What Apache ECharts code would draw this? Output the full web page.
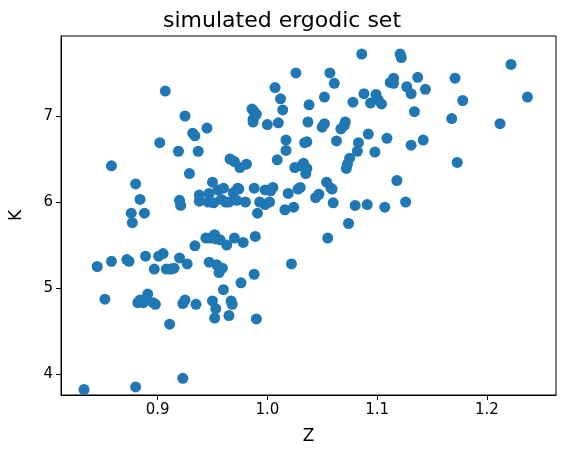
<!DOCTYPE html>
<html><head><meta charset="utf-8">
<script src="https://cdn.jsdelivr.net/npm/echarts@6/dist/echarts.min.js"></script>
<style>html,body{margin:0;padding:0;background:#fff}#c{width:564px;height:472px}</style>
</head><body><div id="c"></div>
<script>
const zValues=[0.833,0.88,0.923,0.845,0.852,0.858,0.858,0.872,0.874,0.876,0.877,0.88,0.884,0.888,0.889,0.882,0.884,0.887,0.89,0.891,0.896,0.898,0.897,0.901,0.902,0.905,0.907,0.908,0.911,0.912,0.915,0.919,0.92,0.921,0.92,0.923,0.925,0.925,0.927,0.929,0.932,0.934,0.934,0.935,0.937,0.938,0.938,0.944,0.945,0.946,0.947,0.947,0.948,0.95,0.95,0.951,0.952,0.952,0.953,0.953,0.954,0.955,0.956,0.957,0.958,0.959,0.96,0.96,0.962,0.963,0.965,0.965,0.966,0.967,0.968,0.969,0.97,0.97,0.972,0.973,0.974,0.975,0.976,0.978,0.98,0.981,0.986,0.987,0.987,0.988,0.988,0.988,0.989,0.99,0.99,0.991,0.993,0.998,0.998,1.0,1.002,1.003,1.005,1.007,1.009,1.01,1.012,1.014,1.016,1.017,1.017,1.019,1.022,1.024,1.025,1.026,1.028,1.03,1.031,1.033,1.034,1.035,1.036,1.036,1.037,1.038,1.044,1.047,1.05,1.052,1.052,1.054,1.055,1.057,1.058,1.059,1.06,1.061,1.063,1.067,1.07,1.071,1.072,1.073,1.074,1.075,1.078,1.08,1.082,1.083,1.086,1.088,1.091,1.092,1.094,1.098,1.099,1.101,1.104,1.107,1.109,1.112,1.115,1.115,1.118,1.121,1.122,1.126,1.127,1.131,1.131,1.134,1.137,1.142,1.144,1.168,1.171,1.173,1.178,1.212,1.222,1.237];
const kValues=[3.82,3.85,3.95,5.25,4.87,5.31,6.42,5.33,5.31,5.87,5.76,6.21,6.03,5.87,5.37,4.83,4.86,4.83,4.88,4.93,4.83,4.81,5.22,5.37,6.69,5.4,7.29,5.22,4.58,5.22,5.23,6.59,6.02,5.96,5.35,4.82,4.86,7.0,5.28,6.33,6.8,6.77,5.49,4.81,6.59,6.08,6.01,5.58,6.86,6.0,5.3,6.1,5.58,6.23,4.85,5.99,5.62,4.65,4.76,5.57,5.27,6.14,5.18,5.56,6.03,5.23,4.98,6.16,6.0,5.5,6.0,4.68,6.5,4.85,4.81,6.11,6.47,5.58,6.02,6.16,6.15,6.4,5.06,5.53,6.0,6.44,7.08,6.96,6.93,7.05,6.16,5.16,5.6,4.64,7.02,5.87,6.0,6.14,5.97,6.9,6.0,6.13,6.17,7.33,6.49,6.92,7.2,7.07,5.91,6.72,6.6,6.1,5.28,5.94,6.4,7.5,6.15,6.17,6.42,6.45,6.69,6.33,6.39,6.7,6.93,7.13,6.05,6.09,6.87,6.91,7.22,6.23,5.58,7.5,6.16,6.15,5.99,7.38,6.71,6.85,6.89,6.93,6.39,6.44,5.75,6.51,7.16,5.96,6.59,6.69,7.72,7.26,5.97,6.79,7.15,6.58,7.25,7.19,7.14,5.94,6.74,7.39,7.44,7.38,6.25,7.72,7.68,6.0,7.34,6.66,7.26,7.05,7.45,6.72,7.31,6.97,7.44,6.46,7.18,6.91,7.6,7.22];
const xTicks=[0.9,1.0,1.1,1.2];
const yTicks=[4,5,6,7];
const pts=zValues.map((z,i)=>[z,kValues[i]]);
const font='DejaVu Sans';
const chart=echarts.init(document.getElementById('c'));
const line={show:true,onZero:false,lineStyle:{color:'#000',width:1}};
chart.setOption({
 animation:false,
 title:{text:'simulated ergodic set',left:'center',top:5,textStyle:{fontFamily:font,fontSize:22,fontWeight:'normal',color:'#000'}},
 grid:{left:60,right:8,top:36,bottom:77,show:true,borderColor:'#000',borderWidth:1},
 xAxis:{type:'value',min:0.812,max:1.263,name:'Z',nameLocation:'middle',nameGap:33,nameTextStyle:{fontFamily:font,fontSize:17,color:'#000'},
   axisLine:line,splitLine:{show:false},
   axisTick:{show:true,length:5,lineStyle:{color:'#000'},customValues:xTicks},
   axisLabel:{color:'#000',fontSize:15,fontFamily:font,customValues:xTicks,formatter:v=>v.toFixed(1)}},
 yAxis:{type:'value',min:3.756,max:7.93,name:'K',nameLocation:'middle',nameGap:36,nameTextStyle:{fontFamily:font,fontSize:17,color:'#000'},
   axisLine:line,splitLine:{show:false},
   axisTick:{show:true,length:5,lineStyle:{color:'#000'},customValues:yTicks},
   axisLabel:{color:'#000',fontSize:15,fontFamily:font,customValues:yTicks,formatter:v=>String(Math.round(v))}},
 series:[{type:'scatter',data:pts,symbolSize:11,itemStyle:{color:'#1f77b4',opacity:1}}]
});
</script></body></html>
